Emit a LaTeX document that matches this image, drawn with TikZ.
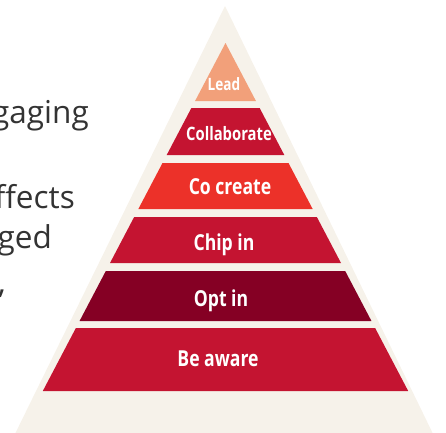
\documentclass[tikz,border=0pt]{standalone}
\usepackage{fontspec}
\setmainfont{Open Sans}
\newfontfamily\labfont[FakeStretch=0.8]{Open Sans}
\definecolor{bgbeige}{HTML}{F6F2EA}
\definecolor{leadc}{HTML}{F2A07A}
\definecolor{crimson}{HTML}{C41431}
\definecolor{brightred}{HTML}{EC3129}
\definecolor{darkred}{HTML}{850024}
\definecolor{bodytext}{HTML}{333333}
\newcommand{\pyrlayer}[3]{%
  \pgfmathsetmacro\xtl{225.5-0.525*(#2-43)}%
  \pgfmathsetmacro\xtr{225.5+0.525*(#2-43)}%
  \pgfmathsetmacro\xbl{225.5-0.525*(#3-43)}%
  \pgfmathsetmacro\xbr{225.5+0.525*(#3-43)}%
  \fill[#1] (\xtl,#2) -- (\xtr,#2) -- (\xbr,#3) -- (\xbl,#3) -- cycle;}
\tikzset{
  lab/.style={text=white, font=\labfont\bfseries, inner sep=0pt, anchor=base},
  side/.style={text=bodytext, font=\fontsize{31.5}{38}\selectfont, inner sep=0pt, anchor=base east}
}
\begin{document}
\begin{tikzpicture}[x=1pt,y=-1pt]
\useasboundingbox (0,0) rectangle (446,432);
\clip (0,0) rectangle (446,432);
% background triangle
\fill[bgbeige] (225,6) -- (436,440) -- (12,440) -- cycle;
% layers
\pyrlayer{leadc}{43}{101}
\pyrlayer{crimson}{108}{155}
\pyrlayer{brightred}{163}{209}
\pyrlayer{crimson}{217}{263}
\pyrlayer{darkred}{271}{321}
\pyrlayer{crimson}{328}{391}
% labels
\node[lab, font=\labfont\bfseries\fontsize{17}{20}\selectfont] (lead) at (224,90) {Lead};
\node[lab, font=\labfont\bfseries\fontsize{18.5}{22}\selectfont] (collab) at (229,140) {Collaborate};
\node[lab, font=\labfont\bfseries\fontsize{22}{26}\selectfont] (cocreate) at (230,194) {Co create};
\node[lab, font=\labfont\bfseries\fontsize{22}{26}\selectfont] (chipin) at (224,250) {Chip in};
\node[lab, font=\labfont\bfseries\fontsize{22}{26}\selectfont] (optin) at (221,306) {Opt in};
\node[lab, font=\labfont\bfseries\fontsize{22}{26}\selectfont] (beaware) at (218,366) {Be aware};
% side text
\node[side] (t1) at (89,123) {gaging};
\node[side] (t2) at (75,208) {ffects};
\node[side] (t3) at (52,248) {ged};
\node[side, anchor=base west] (t4) at (-2,293) {,};
\end{tikzpicture}
\end{document}
